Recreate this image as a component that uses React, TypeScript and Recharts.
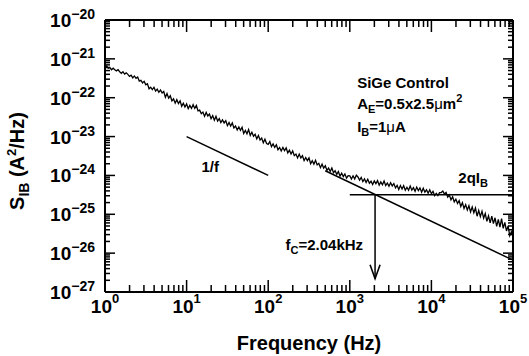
import React from 'react';
import { ComposedChart, Line, XAxis, YAxis, ReferenceLine, ReferenceDot } from 'recharts';

const FONT = '"Liberation Sans", Arial, Helvetica, sans-serif';

// Frequency sampling of the measured spectrum: mantissas within each decade (Hz)
const gridMantissas = [
  1.0, 1.047, 1.096, 1.148, 1.202, 1.259, 1.318, 1.38, 1.445, 1.514,
  1.585, 1.66, 1.738, 1.82, 1.905, 1.995, 2.089, 2.188, 2.291, 2.399,
  2.512, 2.63, 2.754, 2.884, 3.02, 3.162, 3.311, 3.467, 3.631, 3.802,
  3.981, 4.169, 4.365, 4.571, 4.786, 5.012, 5.248, 5.495, 5.754, 6.026,
  6.31, 6.607, 6.918, 7.244, 7.586, 7.943, 8.318, 8.71, 9.12, 9.55,
];
const gridDecades = [1, 10, 100, 1000, 10000];
const lastFrequency = 100000;

const log10Sib = [
  // 1 - 10 Hz
  -21.19, -21.185, -21.24, -21.224, -21.28, -21.24, -21.28, -21.31, -21.28, -21.33,
  -21.37, -21.33, -21.39, -21.36, -21.4, -21.45, -21.42, -21.49, -21.44, -21.5,
  -21.47, -21.57, -21.55, -21.62, -21.58, -21.67, -21.64, -21.77, -21.73, -21.79,
  -21.73, -21.83, -21.78, -21.86, -21.8, -21.88, -21.84, -21.99, -21.89, -22.01,
  -21.95, -22.08, -22.03, -22.14, -22.05, -22.15, -22.08, -22.22, -22.14, -22.24,
  // 10 - 100 Hz
  -22.16, -22.28, -22.2, -22.275, -22.18, -22.275, -22.2, -22.34, -22.32, -22.41,
  -22.37, -22.48, -22.38, -22.47, -22.42, -22.54, -22.46, -22.58, -22.48, -22.6,
  -22.54, -22.64, -22.57, -22.65, -22.59, -22.72, -22.64, -22.73, -22.65, -22.78,
  -22.73, -22.83, -22.75, -22.84, -22.76, -22.92, -22.84, -22.93, -22.82, -22.97,
  -22.89, -22.99, -22.94, -23.06, -22.97, -23.09, -23.04, -23.16, -23.07, -23.18,
  // 100 Hz - 1 kHz
  -23.2, -23.13, -23.26, -23.19, -23.28, -23.21, -23.34, -23.28, -23.37, -23.28,
  -23.36, -23.29, -23.42, -23.35, -23.45, -23.37, -23.49, -23.45, -23.55, -23.45,
  -23.55, -23.49, -23.62, -23.54, -23.62, -23.55, -23.7, -23.62, -23.71, -23.61,
  -23.73, -23.69, -23.8, -23.71, -23.81, -23.75, -23.87, -23.81, -23.9, -23.81,
  -23.93, -23.88, -23.97, -23.9, -24.02, -23.94, -24.03, -23.96, -24.07, -24.005,
  // 1 - 10 kHz
  -24.01, -24.095, -24.01, -24.09, -23.995, -24.04, -24.12, -24.05, -24.16, -24.09,
  -24.18, -24.1, -24.2, -24.15, -24.235, -24.14, -24.21, -24.135, -24.25, -24.165,
  -24.24, -24.145, -24.26, -24.195, -24.28, -24.19, -24.27, -24.21, -24.32, -24.255,
  -24.36, -24.26, -24.35, -24.265, -24.38, -24.305, -24.38, -24.275, -24.38, -24.315,
  -24.41, -24.3, -24.39, -24.32, -24.43, -24.33, -24.43, -24.37, -24.46, -24.37,
  // 10 - 100 kHz
  -24.47, -24.41, -24.52, -24.46, -24.52, -24.445, -24.44, -24.4, -24.48, -24.44,
  -24.56, -24.5, -24.63, -24.55, -24.68, -24.61, -24.72, -24.65, -24.8, -24.7,
  -24.85, -24.75, -24.89, -24.78, -24.94, -24.81, -24.96, -24.84, -25.05, -24.9,
  -25.06, -24.92, -25.1, -24.98, -25.18, -25.04, -25.22, -25.05, -25.24, -25.09,
  -25.31, -25.13, -25.33, -25.11, -25.36, -25.21, -25.43, -25.3, -25.55, -25.45,
  // 100 kHz
  -25.56,
];

// Axis decades
const xDomain: [number, number] = [1, 100000];
const yDomain: [number, number] = [1e-27, 1e-20];
const xMajorExponents = [0, 1, 2, 3, 4, 5];
const yMajorExponents = [-27, -26, -25, -24, -23, -22, -21, -20];
const minorMultipliers = [2, 3, 4, 5, 6, 7, 8, 9];

// Guide lines
const oneOverFGuide = [{ x: 10, y: 1e-23 }, { x: 100, y: 1e-24 }];
const flickerFit = [{ x: 500, y: 1.32e-24 }, { x: 100000, y: 6.6e-27 }];
const shotNoiseLevel = 3.2e-25; // 2qI_B
const shotNoiseRange = [1000, 100000];
const cornerFrequency = 2040; // f_C
const arrowTipValue = 2.2e-27;

// Annotation anchors (data coordinates)
const labelSiGe = { x: 1230, y: 1.78e-22 };
const labelArea = { x: 1230, y: 5.1e-23 };
const labelIb = { x: 1230, y: 1.29e-23 };
const labelShot = { x: 21400, y: 6.5e-25 };
const labelOneOverF = { x: 19.5, y: 1.21e-24 };
const labelCorner = { x: 1456, y: 1.18e-26 };

function isMajor(v: number) {
  const lg = Math.log10(v);
  return Math.abs(lg - Math.round(lg)) < 1e-6;
}

const freqHz = gridDecades.flatMap((d) => gridMantissas.map((m) => m * d)).concat([lastFrequency]);
const data = freqHz.map((f, i) => ({ f, s: Math.pow(10, log10Sib[i]) }));

const buildTicks = (exps: number[]) => {
  const t: number[] = [];
  exps.forEach((e, i) => {
    t.push(Math.pow(10, e));
    if (i < exps.length - 1) minorMultipliers.forEach((m) => t.push(m * Math.pow(10, e)));
  });
  return t;
};
const xTicks = buildTicks(xMajorExponents);
const yTicks = buildTicks(yMajorExponents);
const xMajorTicks = xTicks.filter((v) => isMajor(v));
const yMajorTicks = yTicks.filter((v) => isMajor(v));

const expOf = (v: number) => {
  const e = Math.round(Math.log10(v));
  return e < 0 ? '\u2212' + Math.abs(e) : String(e);
};

const X_MAJ = 12;
const X_MIN = 7;
const Y_MAJ = 10;
const Y_MIN = 5;

const bottomLabel = (props: any) => {
  const x = Number(props.x);
  const y = Number(props.y);
  const v = props.payload.value;
  return (
    <text key={'b' + v} x={x} y={y + 21} textAnchor="middle" fontFamily={FONT} fontWeight="bold" fontSize={19} fill="#000">
      10<tspan fontSize={13} dy={-10}>{expOf(v)}</tspan>
    </text>
  );
};

const leftLabel = (props: any) => {
  const x = Number(props.x);
  const y = Number(props.y);
  const v = props.payload.value;
  return (
    <text key={'l' + v} x={x - 10} y={y + 7} textAnchor="end" fontFamily={FONT} fontWeight="bold" fontSize={19} fill="#000">
      10<tspan fontSize={14} dy={-8}>{expOf(v)}</tspan>
    </text>
  );
};

const XTitle = (props: any) => {
  const vb = props.viewBox || { x: 105, y: 292, width: 408, height: 64 };
  return (
    <text x={vb.x + vb.width / 2} y={vb.y + 58} textAnchor="middle" fontFamily={FONT} fontWeight="bold" fontSize={20} fill="#000">
      Frequency (Hz)
    </text>
  );
};

const YTitle = (props: any) => {
  const vb = props.viewBox || { x: 0, y: 20, width: 105, height: 272 };
  const cx = vb.x + 24;
  const cy = vb.y + vb.height / 2 + 5;
  return (
    <text x={cx} y={cy} transform={`rotate(-90 ${cx} ${cy})`} textAnchor="middle" fontFamily={FONT} fontWeight="bold" fontSize={20} fill="#000">
      S<tspan fontSize={14} dy={5}>IB</tspan>
      <tspan dy={-5}> (A</tspan>
      <tspan fontSize={13} dy={-8}>2</tspan>
      <tspan dy={8}>/Hz)</tspan>
    </text>
  );
};

const txt = { fontFamily: FONT, fontWeight: 'bold' as const, fontSize: 15, fill: '#000' };

// inward tick mark drawn at a boundary point (dx, dy give the inward direction)
const tickShape = (len: number, dx: number, dy: number) => (p: any) => (
  <path d={`M${p.cx},${p.cy}L${p.cx + dx * len},${p.cy + dy * len}`} stroke="#000" strokeWidth={1.5} fill="none" />
);

export default function App() {
  return (
    <div style={{ position: 'absolute', left: 0, top: 0, width: 529, height: 356, background: '#fff' }}>
      <ComposedChart width={529} height={356} data={data} margin={{ top: 20, right: 16, left: 0, bottom: 0 }}>
        <XAxis
          type="number"
          scale="log"
          allowDataOverflow
          dataKey="f"
          domain={xDomain}
          ticks={xMajorTicks}
          interval={0}
          tickSize={0}
          tickMargin={0}
          tickLine={false}
          axisLine={{ stroke: '#000', strokeWidth: 2 }}
          tick={bottomLabel}
          height={64}
          label={XTitle}
        />
        <YAxis
          type="number"
          scale="log"
          allowDataOverflow
          domain={yDomain}
          ticks={yMajorTicks}
          interval={0}
          tickSize={0}
          tickMargin={0}
          tickLine={false}
          axisLine={{ stroke: '#000', strokeWidth: 2 }}
          tick={leftLabel}
          width={105}
          label={YTitle}
        />

        <Line dataKey="s" stroke="#000" strokeWidth={1.3} dot={false} isAnimationActive={false} />

        {/* frame: top and right edges */}
        <ReferenceLine y={yDomain[1]} stroke="#000" strokeWidth={2} />
        <ReferenceLine x={xDomain[1]} stroke="#000" strokeWidth={2} />

        {xTicks.map((v) => (
          <ReferenceDot key={'xb' + v} x={v} y={yDomain[0]} ifOverflow="visible" shape={tickShape(isMajor(v) ? X_MAJ : X_MIN, 0, -1)} />
        ))}
        {xTicks.map((v) => (
          <ReferenceDot key={'xt' + v} x={v} y={yDomain[1]} ifOverflow="visible" shape={tickShape(isMajor(v) ? X_MAJ : X_MIN, 0, 1)} />
        ))}
        {yTicks.map((v) => (
          <ReferenceDot key={'yl' + v} x={xDomain[0]} y={v} ifOverflow="visible" shape={tickShape(isMajor(v) ? Y_MAJ : Y_MIN, 1, 0)} />
        ))}
        {yTicks.map((v) => (
          <ReferenceDot key={'yr' + v} x={xDomain[1]} y={v} ifOverflow="visible" shape={tickShape(isMajor(v) ? Y_MAJ : Y_MIN, -1, 0)} />
        ))}

        <ReferenceLine segment={oneOverFGuide} stroke="#000" strokeWidth={1.5} />
        <ReferenceLine segment={flickerFit} stroke="#000" strokeWidth={1.5} />
        <ReferenceLine
          segment={[{ x: shotNoiseRange[0], y: shotNoiseLevel }, { x: shotNoiseRange[1], y: shotNoiseLevel }]}
          stroke="#000"
          strokeWidth={1.5}
        />
        <ReferenceLine
          segment={[{ x: cornerFrequency, y: shotNoiseLevel }, { x: cornerFrequency, y: arrowTipValue }]}
          stroke="#000"
          strokeWidth={1.5}
        />
        <ReferenceDot
          x={cornerFrequency}
          y={arrowTipValue}
          shape={(p: any) => (
            <path d={`M${p.cx - 5},${p.cy - 14} L${p.cx},${p.cy} L${p.cx + 5},${p.cy - 14}`} fill="none" stroke="#000" strokeWidth={1.6} />
          )}
        />

        <ReferenceDot x={labelSiGe.x} y={labelSiGe.y} shape={(p: any) => <text x={p.cx} y={p.cy} {...txt}>SiGe Control</text>} />
        <ReferenceDot
          x={labelArea.x}
          y={labelArea.y}
          shape={(p: any) => (
            <text x={p.cx} y={p.cy} {...txt}>
              A<tspan fontSize={11} dy={4}>E</tspan>
              <tspan dy={-4}>=0.5x2.5</tspan>
              <tspan fontWeight="normal">μ</tspan>
              <tspan>m</tspan>
              <tspan fontSize={11} dy={-7}>2</tspan>
            </text>
          )}
        />
        <ReferenceDot
          x={labelIb.x}
          y={labelIb.y}
          shape={(p: any) => (
            <text x={p.cx} y={p.cy} {...txt}>
              I<tspan fontSize={11} dy={4}>B</tspan>
              <tspan dy={-4}>=1</tspan>
              <tspan fontWeight="normal">μ</tspan>
              <tspan>A</tspan>
            </text>
          )}
        />
        <ReferenceDot
          x={labelShot.x}
          y={labelShot.y}
          shape={(p: any) => (
            <text x={p.cx} y={p.cy} {...txt}>
              2qI<tspan fontSize={11} dy={4}>B</tspan>
            </text>
          )}
        />
        <ReferenceDot
          x={labelOneOverF.x}
          y={labelOneOverF.y}
          shape={(p: any) => <text x={p.cx} y={p.cy} textAnchor="middle" {...txt}>1/f</text>}
        />
        <ReferenceDot
          x={labelCorner.x}
          y={labelCorner.y}
          shape={(p: any) => (
            <text x={p.cx} y={p.cy} textAnchor="end" {...txt}>
              f<tspan fontSize={11} dy={4}>C</tspan>
              <tspan dy={-4}>=2.04kHz</tspan>
            </text>
          )}
        />
      </ComposedChart>
    </div>
  );
}
